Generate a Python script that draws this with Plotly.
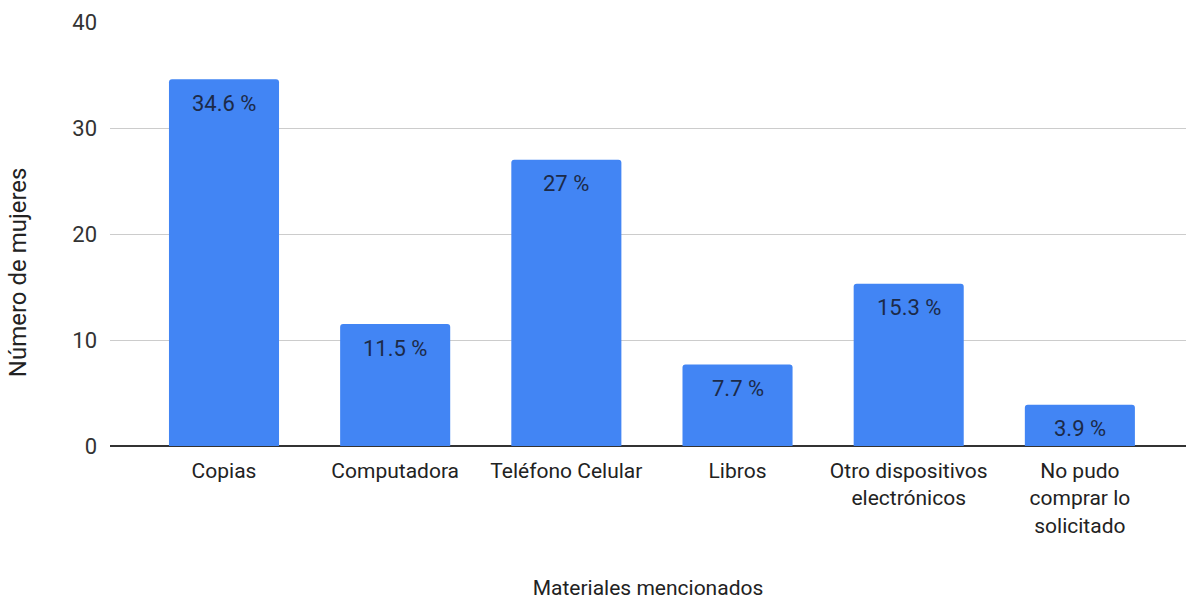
import plotly.graph_objects as go

# Materials mentioned and number of women per category
categorias = [
    "Copias",
    "Computadora",
    "Teléfono Celular",
    "Libros",
    "Otro dispositivos<br>electrónicos",
    "No pudo<br>comprar lo<br>solicitado",
]
valores = [34.6, 11.5, 27, 7.7, 15.3, 3.9]
etiquetas = ["34.6 %", "11.5 %", "27 %", "7.7 %", "15.3 %", "3.9 %"]
ticks_y = [0, 10, 20, 30, 40]

FONT = "Roboto, Arial, sans-serif"

fig = go.Figure(
    go.Bar(
        x=categorias,
        y=valores,
        marker=dict(color="#4285F4", line=dict(width=0), cornerradius=3),
        hoverinfo="skip",
    )
)

# value labels just inside the top of each bar
for cat, val, lab in zip(categorias, valores, etiquetas):
    fig.add_annotation(
        x=cat,
        y=val,
        text=lab,
        showarrow=False,
        yanchor="middle",
        yshift=-24,
        font=dict(family=FONT, size=22, color="#1c2a48"),
    )

# vertical axis title, centred on the whole chart body
fig.add_annotation(
    xref="paper",
    yref="paper",
    x=-0.0855,
    y=0.41,
    text="Número de mujeres",
    textangle=-90,
    showarrow=False,
    xanchor="center",
    yanchor="middle",
    font=dict(family=FONT, size=24, color="#222222"),
)

fig.update_layout(
    width=1186,
    height=600,
    margin=dict(l=110, r=0, t=22, b=154),
    paper_bgcolor="white",
    plot_bgcolor="white",
    bargap=0.357,
    showlegend=False,
    font=dict(family=FONT, size=21, color="#333333"),
)

fig.update_xaxes(
    range=[-0.666, 5.62],
    showgrid=False,
    showline=False,
    ticks="",
    ticklabelstandoff=10,
    tickfont=dict(family=FONT, size=21, color="#222222"),
    title=dict(text="Materiales mencionados", font=dict(family=FONT, size=21, color="#222222"), standoff=48),
)

fig.update_yaxes(
    range=[0, 40],
    tickvals=ticks_y,
    showgrid=True,
    gridcolor="#cccccc",
    gridwidth=1,
    zeroline=True,
    zerolinecolor="#333333",
    zerolinewidth=2,
    ticks="",
    ticklabelstandoff=12,
    tickfont=dict(family=FONT, size=22, color="#333333"),
)

fig.write_html("out.html")
